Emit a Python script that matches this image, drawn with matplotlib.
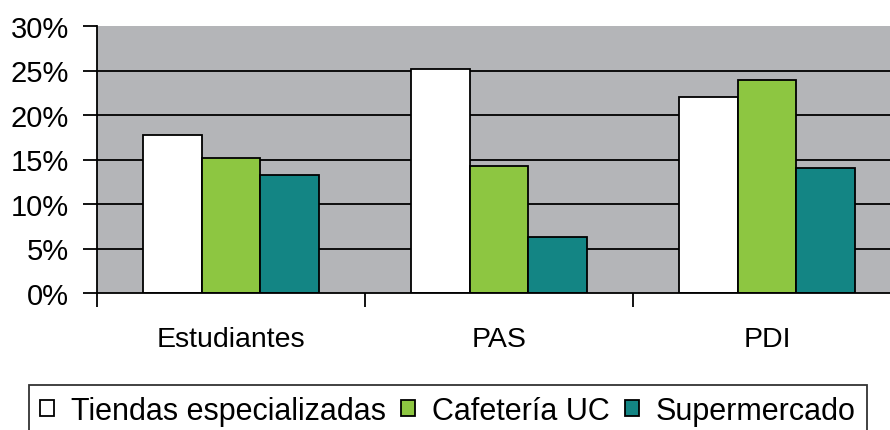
import matplotlib
matplotlib.use("Agg")
import matplotlib.pyplot as plt
import numpy as np

# Data
categories = ["Estudiantes", "PAS", "PDI"]
series_names = ["Tiendas especializadas", "Cafetería UC", "Supermercado"]
tiendas = [17.8, 25.2, 22.0]
cafeteria = [15.2, 14.3, 23.9]
supermercado = [13.3, 6.3, 14.1]
yticks = [0, 5, 10, 15, 20, 25, 30]

colors = ["#FFFFFF", "#8DC641", "#138584"]

plt.rcParams["font.family"] = ["Liberation Sans", "DejaVu Sans"]

fig = plt.figure(figsize=(8.9, 4.31), dpi=100)
ax = fig.add_axes([97 / 890, (431 - 294) / 431, 804 / 890, 267 / 431])
ax.set_facecolor("#B4B5B8")

x = np.arange(len(categories))
w = 0.22
for i, (vals, name) in enumerate(zip([tiendas, cafeteria, supermercado], series_names)):
    ax.bar(x + (i - 1) * w, vals, w, color=colors[i], edgecolor="black",
           linewidth=1.3, label=name, zorder=3)

ax.set_xlim(-0.5, 2.5)
ax.set_ylim(0, 30)
ax.set_yticks(yticks)
ax.set_yticklabels([f"{v}%" for v in yticks], fontsize=21)
for v in yticks[1:-1]:
    ax.axhline(v, color="black", linewidth=1.3, zorder=1)

ax.set_xticks([-0.5, 0.5, 1.5, 2.5])
ax.set_xticklabels([])
ax.set_xticks(x, minor=True)
ax.set_xticklabels(categories, minor=True, fontsize=20.5)
ax.tick_params(axis="x", which="minor", length=0, pad=24)
ax.tick_params(axis="x", which="major", length=10, width=1.3, direction="out")
ax.tick_params(axis="y", length=10, width=1.3, direction="out", pad=10)

for s in ["top", "right"]:
    ax.spines[s].set_visible(False)
for s in ["left", "bottom"]:
    ax.spines[s].set_linewidth(1.3)
    ax.spines[s].set_zorder(4)

leg = fig.legend(loc="upper left", bbox_to_anchor=(29 / 890, 1 - 386 / 431), ncol=3,
                 fontsize=22, frameon=True, fancybox=False, edgecolor="black",
                 handlelength=0.46, handleheight=0.46, handletextpad=0.55,
                 columnspacing=0.5, borderpad=0.36, borderaxespad=0)
leg.get_frame().set_linewidth(1.3)

fig.savefig("out.png", dpi=100)
